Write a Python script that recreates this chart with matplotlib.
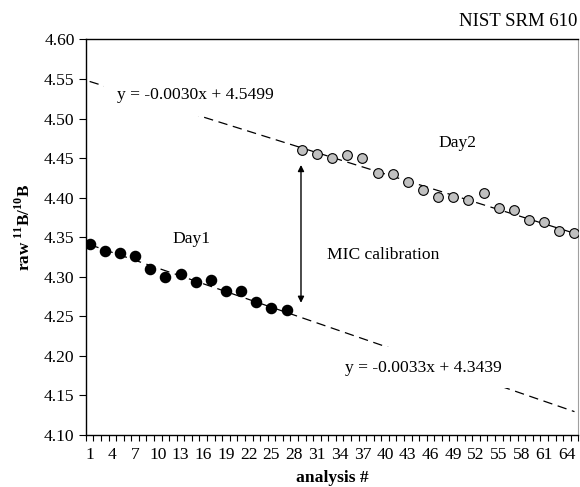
import numpy as np
import matplotlib.pyplot as plt

plt.rcParams['font.family'] = ['Liberation Serif', 'DejaVu Serif']
plt.rcParams['mathtext.fontset'] = 'custom'
plt.rcParams['mathtext.rm'] = 'Liberation Serif'
plt.rcParams['mathtext.bf'] = 'Liberation Serif:bold'

# analysis numbers (category positions)
day1_x = [1, 3, 5, 7, 9, 11, 13, 15, 17, 19, 21, 23, 25, 27]
day1_y = [4.3415, 4.3320, 4.3306, 4.3264, 4.3100, 4.3000, 4.3036, 4.2932,
          4.2957, 4.2818, 4.2820, 4.2674, 4.2599, 4.2573]

day2_x = [29, 31, 33, 35, 37, 39, 41, 43, 45, 47, 49, 51, 53, 55, 57, 59, 61, 63, 65]
day2_y = [4.4602, 4.4552, 4.4497, 4.4543, 4.4501, 4.4316, 4.4295, 4.4202, 4.4093,
          4.4013, 4.4013, 4.3971, 4.4056, 4.3874, 4.3845, 4.3718, 4.3697, 4.3580, 4.3550]

# trendlines from the chart labels
fit1 = (-0.0033, 4.3439)
fit2 = (-0.0030, 4.5499)

n_cat = 65
xticks = [1, 4, 7, 10, 13, 16, 19, 22, 25, 28, 31, 34, 37, 40, 43, 46, 49, 52, 55, 58, 61, 64]
yticks = [4.10, 4.15, 4.20, 4.25, 4.30, 4.35, 4.40, 4.45, 4.50, 4.55, 4.60]

FS = 12.6


def main():
    fig = plt.figure(figsize=(5.8, 4.87), dpi=100)
    ax = fig.add_axes([0.148, 0.107, 0.849, 0.812])

    xs = np.array([1, n_cat])
    ax.plot(xs, fit1[0] * xs + fit1[1], color='black', lw=0.9, dashes=(7.5, 4.5), zorder=1)
    ax.plot(xs, fit2[0] * xs + fit2[1], color='black', lw=0.9, dashes=(7.5, 4.5), zorder=1)

    ax.plot(day1_x, day1_y, 'o', color='black', markersize=7.3, zorder=3)
    ax.plot(day2_x, day2_y, 'o', markerfacecolor='#c0c0c0', markeredgecolor='black',
            markeredgewidth=0.8, markersize=7.0, zorder=3)

    # equation labels (white box hides the dashed line)
    box = dict(facecolor='white', edgecolor='none', pad=9)
    ax.text(14.9, 4.5295, 'y = -0.0030x + 4.5499', fontsize=FS, ha='center', va='center',
            bbox=box, zorder=2)
    ax.text(45.1, 4.185, 'y = -0.0033x + 4.3439', fontsize=FS, ha='center', va='center',
            bbox=box, zorder=2)

    ax.text(14.4, 4.3479, 'Day1', fontsize=FS, ha='center', va='center')
    ax.text(49.6, 4.469, 'Day2', fontsize=FS, ha='center', va='center')
    ax.text(39.8, 4.328, 'MIC calibration', fontsize=FS, ha='center', va='center')

    ax.annotate('', xy=(28.9, 4.267), xytext=(28.9, 4.4413),
                arrowprops=dict(arrowstyle='<|-|>', color='black', lw=1,
                                mutation_scale=9, shrinkA=0, shrinkB=0))

    fig.text(0.995, 0.955, 'NIST SRM 610', fontsize=13.5, ha='right', va='center')

    ax.set_xlim(0.5, n_cat + 0.5)
    ax.set_ylim(4.10, 4.60)
    ax.set_xticks(xticks)
    ax.set_xticklabels([str(t) for t in xticks])
    ax.set_xticks(np.arange(0.5, n_cat + 1, 1.0), minor=True)
    ax.tick_params(axis='x', which='major', length=0, pad=9, labelsize=FS)
    ax.tick_params(axis='x', which='minor', length=4, width=0.8, direction='out')
    ax.set_yticks(yticks)
    ax.set_yticklabels(['%.2f' % t for t in yticks])
    ax.tick_params(axis='y', length=5, width=0.8, labelsize=FS, pad=3)

    for s in ['left', 'bottom', 'top']:
        ax.spines[s].set_linewidth(1.0)
    ax.spines['right'].set_color('#a0a0a0')
    ax.spines['right'].set_linewidth(0.8)

    ax.set_xlabel('analysis #', fontsize=FS, fontweight='bold', labelpad=5)
    ax.set_ylabel(r'raw $^{\mathbf{11}}$B/$^{\mathbf{10}}$B', fontsize=12.3,
                  fontweight='bold')
    ax.yaxis.set_label_coords(-0.106, 0.526)

    fig.savefig('out.png', dpi=100)


if __name__ == '__main__':
    main()
